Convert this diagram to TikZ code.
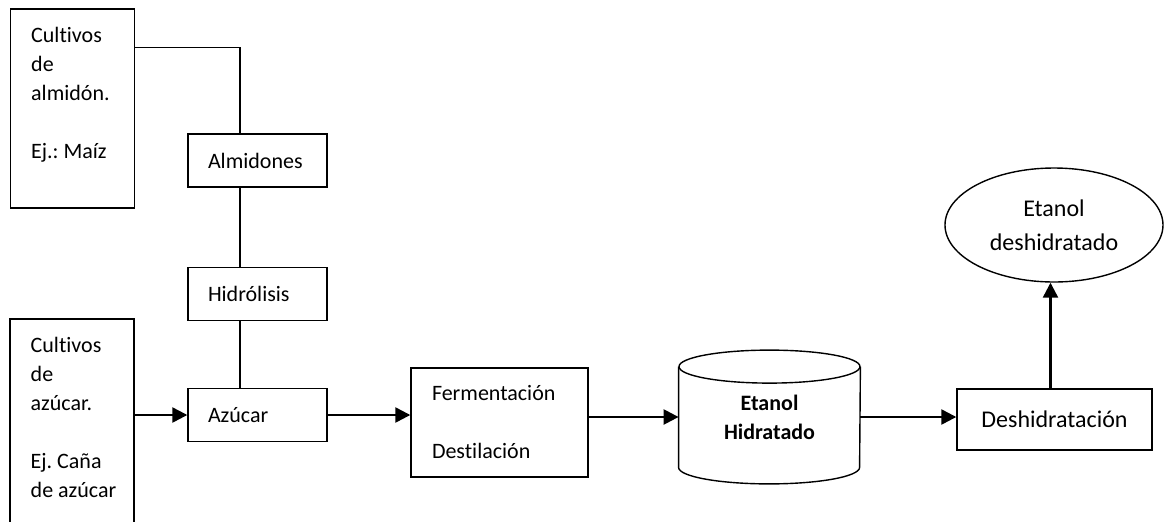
\documentclass[tikz,border=0pt]{standalone}
\usepackage{fontspec}
\setmainfont{Carlito}[Ligatures=NoCommon]
\usepackage{tikz}
\usetikzlibrary{positioning,arrows.meta,calc,shapes.geometric}
\frenchspacing
\newcommand{\txtsmall}{\fontsize{11}{14.5}\selectfont}
\newcommand{\txtlarge}{\fontsize{12}{17}\selectfont}
\tikzset{
  procbox/.style ={rectangle, draw, line width=0.7pt, minimum width=69.5pt,
                   minimum height=26.5pt, text width=49.5pt, inner xsep=10pt,
                   inner ysep=0pt, align=left, font=\txtsmall},
  cropbox/.style ={rectangle, draw, line width=0.7pt, minimum width=62pt,
                   inner sep=0pt},
  croptext/.style={anchor=north west, inner sep=0pt, align=left, font=\txtsmall},
  % the drum outline is drawn round this node afterwards
  tank/.style    ={rectangle, minimum width=90.5pt, minimum height=66.5pt,
                   inner sep=0pt, align=center, font=\txtsmall\bfseries},
  tankline/.style={draw, line width=0.7pt},
  product/.style ={ellipse, draw, line width=0.7pt, minimum width=109pt,
                   minimum height=57pt, inner sep=0pt, align=center,
                   font=\txtlarge},
  link/.style    ={draw, line width=0.8pt},
  feed/.style    ={draw, line width=1.2pt, -{Triangle[length=7.5pt,width=7.5pt]}},
}

\begin{document}
\begin{tikzpicture}[x=0.5pt,y=-0.5pt]
\useasboundingbox (0,0) rectangle (1164,521);
\clip (0,0) rectangle (1164,521);
% raw material boxes on the left
\node[cropbox, minimum height=99.5pt] (almidon) at (72.5,108.5) {};
\node[croptext] (almidon-t) at ([xshift=10.5pt,yshift=-9.25pt]almidon.north west)
   {Cultivos\\de\\almidón.\\[14.5pt]Ej.: Maíz};
\node[cropbox, minimum height=110.5pt] (cana) at (72,429.5) {};
\node[croptext] (cana-t) at ([xshift=10.5pt,yshift=-9.25pt]cana.north west)
   {Cultivos\\de\\azúcar.\\[14.5pt]Ej. Caña\\de azúcar};
% starch route
\node[procbox] (almidones) at (257.5,160.5) {Almidones};
\node[procbox] (hidrolisis) at (257.5,294) {Hidrólisis};
\node[procbox] (azucar) at (257.5,415) {Azúcar};
% main line
\node[procbox, minimum width=88.5pt, minimum height=54.5pt, text width=67.5pt,
      inner xsep=10.5pt] (ferm) at (499.5,422.5) {Fermentación\\[14.5pt]Destilación};
\node[tank] (etanol) at (769.5,417) {Etanol\\Hidratado};
\draw[tankline] ([yshift=-8.25pt]etanol.north) ellipse [x radius=90.5, y radius=16.5];
\draw[tankline] ([yshift=-8.25pt]etanol.north west) -- ([yshift=8.25pt]etanol.south west)
   arc [start angle=180, end angle=0, x radius=90.5, y radius=16.5]
   -- ([yshift=-8.25pt]etanol.north east);
\node[procbox, minimum width=97.5pt, minimum height=30.5pt, text width=77.5pt,
      align=center, font=\txtlarge] (deshid) at (1054.5,419.5) {Deshidratación};
\node[product] (final) at (1054,225) {Etanol\\deshidratado};

\draw[link] ([yshift=-19.5pt]almidon.north east) -| ([xshift=-8.75pt]almidones.north);
\draw[link] ([xshift=-8.75pt]almidones.south) -- ([xshift=-8.75pt]hidrolisis.north);
\draw[link] ([xshift=-8.75pt]hidrolisis.south) -- ([xshift=-8.75pt]azucar.north);
\draw[feed] (cana.east |- azucar.west) -- (azucar.west);
\draw[feed] (azucar.east) -- (azucar.east -| ferm.west);
\draw[feed] (ferm.east |- etanol.west) -- (etanol.west);
\draw[feed] (etanol.east) -- (etanol.east -| deshid.west);
\draw[feed] ([xshift=-2pt]deshid.north) -- ([xshift=-2pt]deshid.north |- final.south);
\end{tikzpicture}
\end{document}
